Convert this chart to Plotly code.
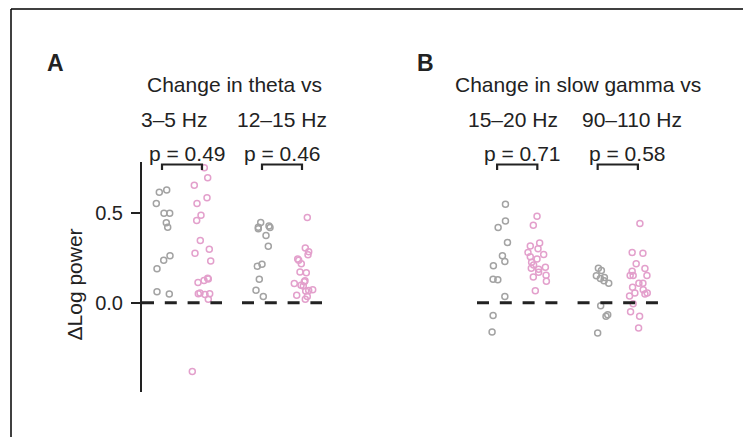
import plotly.graph_objects as go

# ---------------- data ----------------
panels = ["A", "B"]
panel_titles = ["Change in theta vs", "Change in slow gamma vs"]
band_labels = [["3–5 Hz", "12–15 Hz"], ["15–20 Hz", "90–110 Hz"]]
p_values = [["p = 0.49", "p = 0.46"], ["p = 0.71", "p = 0.58"]]
tick_vals = [0.0, 0.5]
tick_text = ["0.0", "0.5"]
y_title = "ΔLog power"

# panel A, 3–5 Hz
a1_gray = [0.617, 0.63, 0.554, 0.50, 0.50, 0.446, 0.422, 0.263, 0.237, 0.19, 0.061, 0.048]
a1_gray_jit = [-2.7, 4.7, -5.7, 2, 7.7, 4.3, 5.7, 8, 1.7, -5, -5, 7.3]
a1_pink = [0.754, 0.698, 0.656, 0.587, 0.554, 0.489, 0.459, 0.348, 0.298, 0.276, 0.233,
           0.137, 0.133, 0.124, 0.113, 0.05, 0.054, 0.046, 0.05, 0.02, -0.385]
a1_pink_jit = [2.3, 5.7, -7.7, 5, -5, -1, -5.3, -1.7, 7.3, -7, 8.7, 5.7, 6.3, 2, -4, -3.7,
               -2, 3, 7.7, 6.3, -9.7]
# panel A, 12–15 Hz
a2_gray = [0.448, 0.422, 0.413, 0.428, 0.42, 0.376, 0.315, 0.204, 0.215, 0.131, 0.07, 0.035]
a2_gray_jit = [-1.3, -3.7, -3.7, 7, 8, 4, 6.3, -4.7, 0, -2.7, -6, 1.3]
a2_pink = [0.476, 0.305, 0.285, 0.268, 0.244, 0.237, 0.218, 0.172, 0.168, 0.122, 0.117,
           0.107, 0.098, 0.094, 0.068, 0.072, 0.065, 0.041, 0.035, 0.02]
a2_pink_jit = [5.3, 3.3, 6.7, 6, -4.3, -3.3, -0.7, -2, 4.3, 3, 2.3, -7.7, -1, 1.3, 6.7, 10.7,
               3.7, -5.3, 5.3, 3.3]
# panel B, 15–20 Hz
b1_gray = [0.55, 0.457, 0.42, 0.337, 0.263, 0.23, 0.207, 0.131, 0.128, 0.035, -0.072, -0.163]
b1_gray_jit = [8.3, 8.3, 1, 10.3, 5.3, 7.7, -3.7, -4, 0.7, 7.7, -4, -5]
b1_pink = [0.483, 0.433, 0.317, 0.333, 0.302, 0.281, 0.27, 0.244, 0.257, 0.226, 0.211, 0.193,
           0.187, 0.198, 0.17, 0.154, 0.143, 0.12, 0.067]
b1_pink_jit = [-0.3, -4, -7, 2.3, 0.7, -9.3, 6.3, -0.3, -7, -5.7, -3.7, -6, 1.3, 8, 1.3, 8.7,
               -4, 9, -2]
# panel B, 90–110 Hz
b2_gray = [0.193, 0.18, 0.15, 0.135, 0.141, 0.122, 0.109, -0.017, -0.067, -0.076, -0.169]
b2_gray_jit = [0.7, 3.7, -1.3, 2.7, 6.7, 6.3, 11, 3, 10, 8.3, 0]
b2_pink = [0.443, 0.28, 0.276, 0.217, 0.191, 0.176, 0.152, 0.152, 0.152, 0.109, 0.109, 0.087,
           0.054, 0.072, 0.048, 0.054, 0.037, -0.006, -0.05, -0.076, -0.141]
b2_pink_jit = [2, -5.7, 5, -1.7, 7, -5.7, -7.7, -4.7, 9, 1, 5, -5.3, -3, 5.3, 7, 9.3, -8.3,
               -4.7, -7.3, 1.7, 0.7]

groups = [
    [(a1_gray, a1_gray_jit, a1_pink, a1_pink_jit), (a2_gray, a2_gray_jit, a2_pink, a2_pink_jit)],
    [(b1_gray, b1_gray_jit, b1_pink, b1_pink_jit), (b2_gray, b2_gray_jit, b2_pink, b2_pink_jit)],
]

# ---------------- style / layout ----------------
W, H = 743, 437
FONT = "Liberation Sans, Arial, sans-serif"
TXT = "#222222"
GRAY = "#a3a3a3"
PINK = "#e3a0cc"
FS = 21

def px(x, y):
    return x / W, 1 - y / H

Y0PX, PXU = 302.7, 179.0
YMIN, YMAX = -0.5, 0.785
dom_bot = (H - (Y0PX - YMIN * PXU)) / H
dom_top = (H - (Y0PX - YMAX * PXU)) / H

x_domains = [(142 / W, 322 / W), (477 / W, 658 / W)]
SUB = 0.2       # gray / pink offset from group centre
HALF = 0.4      # half width of zero line
JIT = 0.01      # jitter units per read pixel

fig = go.Figure()
xaxes = ["x", "x2"]
shapes = []
annotations = []

for pi, panel in enumerate(groups):
    xa = xaxes[pi]
    for gi, (gv, gj, pv, pj) in enumerate(panel):
        centre = gi
        fig.add_trace(go.Scatter(
            x=[centre - SUB + j * JIT for j in gj], y=gv, mode="markers",
            xaxis=xa, yaxis="y", cliponaxis=False, showlegend=False,
            marker=dict(symbol="circle-open", size=6, color=GRAY, line=dict(width=1.5, color=GRAY))))
        fig.add_trace(go.Scatter(
            x=[centre + SUB + j * JIT for j in pj], y=pv, mode="markers",
            xaxis=xa, yaxis="y", cliponaxis=False, showlegend=False,
            marker=dict(symbol="circle-open", size=6, color=PINK, line=dict(width=1.5, color=PINK))))
        # dashed zero line
        fig.add_trace(go.Scatter(
            x=[centre - HALF, centre + HALF], y=[0, 0], mode="lines",
            xaxis=xa, yaxis="y", showlegend=False, hoverinfo="skip",
            line=dict(color="#222222", width=3, dash="12px,10.8px")))
        # bracket
        yb, yt = 0.772, 0.742
        fig.add_trace(go.Scatter(
            x=[centre - SUB, centre - SUB, centre + SUB, centre + SUB],
            y=[yt, yb, yb, yt], mode="lines",
            xaxis=xa, yaxis="y", showlegend=False, hoverinfo="skip",
            line=dict(color="#222222", width=2.2)))

# text annotations (pixel positions of the text in the picture)
text_pos = [
    ("A", 55, 63, True, 23), ("B", 425, 63, True, 23),
    (panel_titles[0], 234, 84, False, FS), (panel_titles[1], 578, 84, False, FS),
    (band_labels[0][0], 174, 119, False, FS), (band_labels[0][1], 282, 119, False, FS),
    (band_labels[1][0], 513, 119, False, FS), (band_labels[1][1], 632, 119, False, FS),
    (p_values[0][0], 187, 153, False, FS), (p_values[0][1], 282, 153, False, FS),
    (p_values[1][0], 522, 153, False, FS), (p_values[1][1], 627, 153, False, FS),
]
for t, x, y, bold, fs in text_pos:
    ax_, ay_ = px(x, y)
    annotations.append(dict(
        text=f"<b>{t}</b>" if bold else t, x=ax_, y=ay_, xref="paper", yref="paper",
        xanchor="center", yanchor="middle", showarrow=False,
        font=dict(family=FONT, size=fs, color=TXT)))

tx, ty = px(73.5, 285)
annotations.append(dict(
    text=y_title, x=tx, y=ty, xref="paper", yref="paper", textangle=-90,
    xanchor="center", yanchor="middle", showarrow=False,
    font=dict(family=FONT, size=FS, color=TXT)))

# outer frame (left and top edges)
shapes.append(dict(type="line", xref="paper", yref="paper",
                   x0=11 / W, x1=11 / W, y0=0, y1=1 - 9 / H, line=dict(color="black", width=1.5)))
shapes.append(dict(type="line", xref="paper", yref="paper",
                   x0=11 / W, x1=1, y0=1 - 9 / H, y1=1 - 9 / H, line=dict(color="black", width=1.5)))

hidden_x = dict(visible=False, range=[-HALF, 1 + HALF], showgrid=False, zeroline=False)
fig.update_layout(
    width=W, height=H, margin=dict(l=0, r=0, t=0, b=0),
    paper_bgcolor="white", plot_bgcolor="rgba(0,0,0,0)",
    font=dict(family=FONT, size=FS, color=TXT),
    xaxis=dict(hidden_x, domain=list(x_domains[0]), anchor="y"),
    xaxis2=dict(hidden_x, domain=list(x_domains[1]), anchor="y"),
    yaxis=dict(range=[YMIN, YMAX], domain=[dom_bot, dom_top], anchor="x",
               showline=True, linecolor="#222222", linewidth=2,
               ticks="outside", ticklen=9, tickwidth=2, tickcolor="#222222",
               tickvals=tick_vals, ticktext=tick_text, ticklabelstandoff=4,
               tickfont=dict(family=FONT, size=20, color=TXT),
               showgrid=False, zeroline=False),
    shapes=shapes, annotations=annotations,
)

fig.write_html("out.html", config={"displayModeBar": False, "staticPlot": True},
               post_script="document.body.style.margin='0';document.body.style.overflow='hidden';")
